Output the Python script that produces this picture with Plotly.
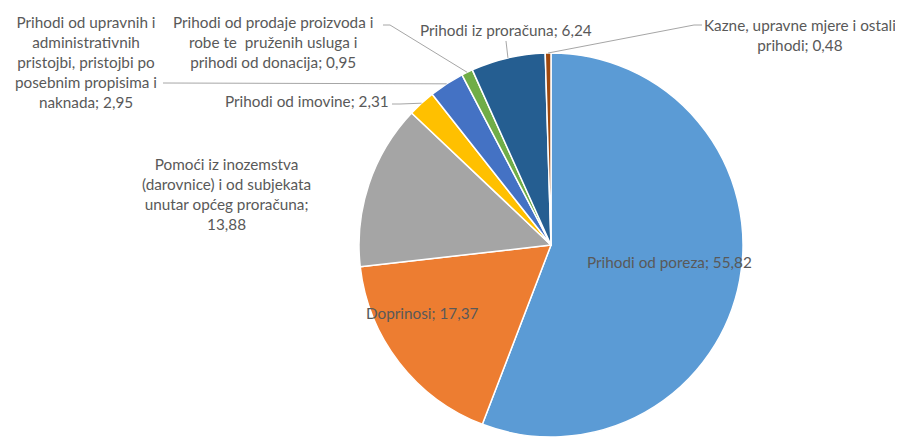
import math
import plotly.graph_objects as go

OFF = 8  # default body margin of the html page
W, H = 903 - OFF, 437 - OFF

categories = [
    "Prihodi od poreza",
    "Doprinosi",
    "Pomoći iz inozemstva (darovnice) i od subjekata unutar općeg proračuna",
    "Prihodi od imovine",
    "Prihodi od upravnih i administrativnih pristojbi, pristojbi po posebnim propisima i naknada",
    "Prihodi od prodaje proizvoda i robe te pruženih usluga i prihodi od donacija",
    "Prihodi iz proračuna",
    "Kazne, upravne mjere i ostali prihodi",
]
values = [55.82, 17.37, 13.88, 2.31, 2.95, 0.95, 6.24, 0.48]
label_texts = [
    "Prihodi od poreza; 55,82",
    "Doprinosi; 17,37",
    "Pomoći iz inozemstva<br>(darovnice) i od subjekata<br>unutar općeg proračuna;<br>13,88",
    "Prihodi od imovine; 2,31",
    "Prihodi od upravnih i<br>administrativnih<br>pristojbi, pristojbi po<br>posebnim propisima i<br>naknada; 2,95",
    "Prihodi od prodaje proizvoda i<br>robe te  pruženih usluga i<br>prihodi od donacija; 0,95",
    "Prihodi iz proračuna; 6,24",
    "Kazne, upravne mjere i ostali<br>prihodi; 0,48",
]
colors = ["#5B9BD5", "#ED7D31", "#A5A5A5", "#FFC000", "#4472C4", "#70AD47", "#255E91", "#9E480E"]

# layout in page pixels
cx_px, cy_px, r_px = 551, 245, 192
top_fig = cy_px - r_px - OFF
dom_y = [0, (H - top_fig) / H]
half_w = 0.24
dom_x = [(cx_px - OFF) / W - half_w, (cx_px - OFF) / W + half_w]

label_pos = [
    (669, 262), (422, 313), (226, 194), (307, 101),
    (86, 62), (273, 42), (506, 30), (800, 35),
]
leader_start = {3: [(392, 104), (400, 104)],
                4: [(163, 83)],
                5: [(383, 25), (390, 25)],
                6: [(506, 41)],
                7: [(702, 25), (694, 25)]}

total = sum(values)
cum = 0
mid_angles = []
for v in values:
    mid_angles.append((cum + v / 2) / total * 360)
    cum += v

def px2paper(x, y):
    return (x - OFF) / W, 1 - (y - OFF) / H

fig = go.Figure(go.Pie(
    labels=categories, values=values, sort=False, direction="clockwise",
    rotation=0, marker=dict(colors=colors, line=dict(color="white", width=1.5)),
    textinfo="none", hoverinfo="label+value", showlegend=False,
    domain=dict(x=dom_x, y=dom_y),
))

font = dict(family="Lato, Open Sans, sans-serif", size=15.3, color="#595959")
annotations = []
shapes = []
for i, txt in enumerate(label_texts):
    x, y = px2paper(*label_pos[i])
    annotations.append(dict(x=x, y=y, xref="paper", yref="paper", text=txt,
                            showarrow=False, font=font, align="center",
                            xanchor="center", yanchor="middle"))
    if i in leader_start:
        a = math.radians(mid_angles[i])
        ex = cx_px + r_px * math.sin(a)
        ey = cy_px - r_px * math.cos(a)
        pts = leader_start[i] + [(ex, ey)]
        path = "M " + " L ".join(f"{px2paper(px, py)[0]:.5f},{px2paper(px, py)[1]:.5f}" for px, py in pts)
        shapes.append(dict(type="path", path=path, xref="paper", yref="paper",
                           line=dict(color="#A6A6A6", width=1)))

fig.update_layout(width=W, height=H, margin=dict(l=0, r=0, t=0, b=0),
                  paper_bgcolor="white", plot_bgcolor="white",
                  annotations=annotations, shapes=shapes)
fig.write_html("out.html")
